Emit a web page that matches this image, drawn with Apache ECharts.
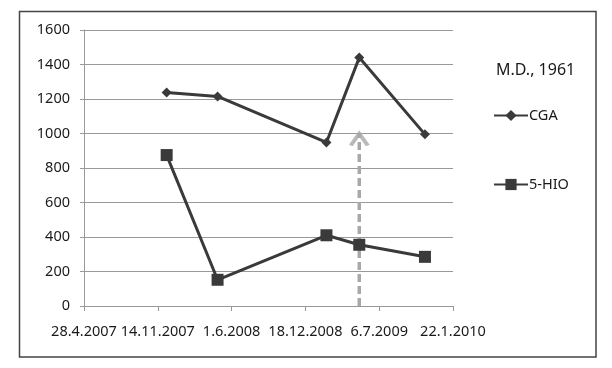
<!DOCTYPE html>
<html>
<head>
<meta charset="utf-8">
<script src="https://cdn.jsdelivr.net/npm/echarts@6/dist/echarts.min.js"></script>
<style>
html,body{margin:0;padding:0;background:#fff;}
#chart{width:612px;height:368px;}
</style>
</head>
<body>
<div id="chart"></div>
<script>
// ---- data ----
var startDate = '2007-04-28';
var xTickLabels = ['28.4.2007', '14.11.2007', '1.6.2008', '18.12.2008', '6.7.2009', '22.1.2010'];
var yTickLabels = ['0', '200', '400', '600', '800', '1000', '1200', '1400', '1600'];
var sampleDates = ['2007-12-08', '2008-04-24', '2009-02-13', '2009-05-13', '2009-11-07'];
var cgaValues = [1237, 1215, 948, 1440, 995];
var hioValues = [875, 152, 410, 355, 285];
var arrowDate = '2009-05-13';
var arrowValues = [0, 1000];
var titleText = 'M.D., 1961';
var seriesNames = ['CGA', '5-HIO'];

// ---- helpers ----
var DAY = 86400000;
function dayOffset(d) { return Math.round((Date.parse(d) - Date.parse(startDate)) / DAY); }
function pairs(dates, vals) { return dates.map(function (d, i) { return [dayOffset(d), vals[i]]; }); }

var xMax = 200 * (xTickLabels.length - 1);
var yMax = Number(yTickLabels[yTickLabels.length - 1]);

var chart = echarts.init(document.getElementById('chart'), null, {renderer: 'canvas'});
var font = 'Noto Sans';
var dark = '#3a3a3a';
var gray = '#a8a8a8';
var txt = '#1a1a1a';

chart.setOption({
  backgroundColor: '#fff',
  animation: false,
  title: {
    text: titleText,
    left: 491, top: 57,
    textStyle: {fontFamily: font, fontSize: 16, fontWeight: 'normal', color: txt}
  },
  legend: {
    orient: 'vertical',
    left: 488, top: 103,
    itemWidth: 34, itemHeight: 14, itemGap: 54,
    data: seriesNames,
    textStyle: {fontFamily: font, fontSize: 14.5, color: txt, padding: [0, 0, 0, -4]}
  },
  graphic: [{
    type: 'rect',
    shape: {x: 19.5, y: 11.5, width: 576.5, height: 345.5},
    style: {fill: 'none', stroke: '#444', lineWidth: 1.5},
    silent: true
  }],
  grid: {left: 84, right: 159, top: 30, bottom: 62, containLabel: false},
  xAxis: {
    type: 'value',
    min: 0, max: xMax, interval: 200,
    axisLine: {show: true, lineStyle: {color: '#999', width: 1}},
    axisTick: {show: true, length: 5, lineStyle: {color: '#999'}},
    splitLine: {show: false},
    axisLabel: {
      margin: 18, fontFamily: font, fontSize: 14.5, color: txt,
      formatter: function (v) { return xTickLabels[Math.round(v / 200)] || ''; }
    }
  },
  yAxis: {
    type: 'value',
    min: 0, max: yMax, interval: 200,
    axisLine: {show: true, lineStyle: {color: '#999', width: 1}},
    axisTick: {show: true, length: 4, lineStyle: {color: '#999'}},
    splitLine: {show: true, lineStyle: {color: '#999', width: 1}},
    axisLabel: {
      margin: 14, fontFamily: font, fontSize: 14.5, color: txt,
      formatter: function (v) { return yTickLabels[Math.round(v / 200)]; }
    }
  },
  series: [
    {
      name: 'arrowLine', type: 'line',
      data: arrowValues.map(function (v) { return [dayOffset(arrowDate), v]; }),
      symbol: 'none', z: 1,
      lineStyle: {color: gray, width: 3.5, type: [8, 4]}
    },
    {
      name: 'arrowHead', type: 'scatter',
      data: [[dayOffset(arrowDate), arrowValues[1]]],
      symbol: 'path://M0,12 L9,0 L18,12',
      symbolSize: [17, 12], symbolOffset: [0, 6],
      itemStyle: {color: 'transparent', borderColor: gray, borderWidth: 3.5},
      z: 1
    },
    {
      name: seriesNames[0], type: 'line',
      data: pairs(sampleDates, cgaValues),
      symbol: 'diamond', symbolSize: 10,
      lineStyle: {color: dark, width: 3},
      itemStyle: {color: dark},
      z: 3
    },
    {
      name: seriesNames[1], type: 'line',
      data: pairs(sampleDates, hioValues),
      symbol: 'rect', symbolSize: 12,
      lineStyle: {color: dark, width: 3},
      itemStyle: {color: dark},
      z: 3
    }
  ]
});
</script>
</body>
</html>
